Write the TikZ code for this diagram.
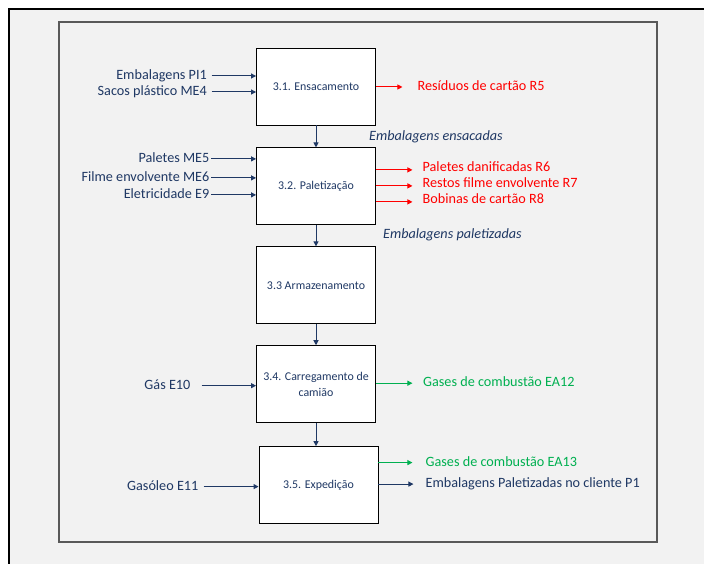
\documentclass[tikz,border=0pt]{standalone}
\usepackage{fontspec}
\setmainfont{Carlito}
\usetikzlibrary{positioning, arrows.meta}
\definecolor{procnavy}{HTML}{1F3864}
\definecolor{procred}{HTML}{FF0000}
\definecolor{procgreen}{HTML}{00B050}
\definecolor{procbg}{HTML}{F2F2F2}
\definecolor{procframe}{HTML}{595959}

\begin{document}
\begin{tikzpicture}[x=1pt, y=1pt,
        b/.style={draw=black, line width=0.9pt, fill=white, text=procnavy, font=\fontsize{11.9}{16}\selectfont, minimum width=119pt, minimum height=77pt, align=center, inner sep=0pt},
        lbl/.style={inner sep=0pt, text height=10pt, text depth=3pt, font=\fontsize{14.2}{17}\selectfont},
        inl/.style={lbl, text=procnavy},
        redl/.style={lbl, text=procred},
        greenl/.style={lbl, text=procgreen},
        flowl/.style={lbl, text=procnavy, font=\fontsize{14.2}{17}\selectfont\itshape, anchor=west},
        arr/.style={-{Triangle[length=5pt,width=5pt]}, line width=1pt},
        navyarr/.style={arr, color=procnavy},
        redarr/.style={arr, color=procred},
        greenarr/.style={arr, color=procgreen}]
      \useasboundingbox (0,0) rectangle (704,564);
      \clip (0,0) rectangle (704,564);
      \draw[line width=2.2pt, fill=procbg] (9,555) rectangle (740,-40);
      \draw[procframe, line width=1.3pt] (59,542) rectangle (657,22);
      \node[b] (b1) at (316,477.5) {3.1. Ensacamento};
      \node[b, below=22pt of b1] (b2) {3.2. Paletização};
      \node[b, below=21pt of b2] (b3) {3.3 Armazenamento};
      \node[b, below=21pt of b3] (b4) {3.4. Carregamento de\\camião};
      \node[b, below=23pt of b4, xshift=2.5pt] (b5) {3.5. Expedição};
      \draw[navyarr] (b1) -- (b2);
      \draw[navyarr] (b2) -- (b3);
      \draw[navyarr] (b3) -- (b4);
      \draw[navyarr] (b4.south) -- (b4.south |- b5.north);
      \node[flowl] (ens) at ([xshift=53pt, yshift=-12pt]b1.south) {Embalagens ensacadas};
      \node[flowl] (pal) at ([xshift=67pt, yshift=-10pt]b2.south) {Embalagens paletizadas};
      \node[inl, left=49pt of b1.west, yshift=10.5pt] (pi1) {Embalagens PI1};
      \node[inl, left=49pt of b1.west, yshift=-5.5pt] (me4) {Sacos plástico ME4};
      \node[inl, left=46.5pt of b2.west, yshift=27.5pt] (me5) {Paletes ME5};
      \node[inl, left=46.5pt of b2.west, yshift=8.5pt] (me6) {Filme envolvente ME6};
      \node[inl, left=46.5pt of b2.west, yshift=-8.5pt] (e9) {Eletricidade E9};
      \node[inl, left=65.5pt of b4.west, yshift=-1.5pt] (e10) {Gás E10};
      \node[inl, left=60pt of b5.west, yshift=-1.5pt] (e11) {Gasóleo E11};
      \draw[navyarr] ([xshift=4.5pt]pi1.east) -- (pi1 -| b1.west);
      \draw[navyarr] ([xshift=4.5pt]me4.east) -- (me4 -| b1.west);
      \draw[navyarr] ([xshift=1.5pt]me5.east) -- (me5 -| b2.west);
      \draw[navyarr] ([xshift=1.5pt]me6.east) -- (me6 -| b2.west);
      \draw[navyarr] ([xshift=1.5pt]e9.east) -- (e9 -| b2.west);
      \draw[navyarr] ([xshift=11pt]e10.east) -- (e10 -| b4.west);
      \draw[navyarr] ([xshift=5pt]e11.east) -- (e11 -| b5.west);
      \node[redl, right=41.5pt of b1.east, yshift=-0.5pt] (r5) {Resíduos de cartão R5};
      \node[redl, right=46.5pt of b2.east, yshift=18.5pt] (r6) {Paletes danificadas R6};
      \node[redl, right=46.5pt of b2.east, yshift=2.5pt] (r7) {Restos filme envolvente R7};
      \node[redl, right=46.5pt of b2.east, yshift=-13.5pt] (r8) {Bobinas de cartão R8};
      \node[greenl, right=47pt of b4.east, yshift=1pt] (ea12) {Gases de combustão EA12};
      \node[greenl, right=47pt of b5.east, yshift=22.5pt] (ea13) {Gases de combustão EA13};
      \node[inl, right=47pt of b5.east, yshift=1pt] (p1) {Embalagens Paletizadas no cliente P1};
      \draw[redarr] (r5 -| b1.east) -- ([xshift=-15pt]r5.west);
      \draw[redarr] ([yshift=-2pt]r6.west -| b2.east) -- ([xshift=-10pt, yshift=-2pt]r6.west);
      \draw[redarr] ([yshift=-2pt]r7.west -| b2.east) -- ([xshift=-10pt, yshift=-2pt]r7.west);
      \draw[redarr] ([yshift=-2pt]r8.west -| b2.east) -- ([xshift=-10pt, yshift=-2pt]r8.west);
      \draw[greenarr] (ea12 -| b4.east) -- ([xshift=-10.5pt]ea12.west);
      \draw[greenarr] (ea13 -| b5.east) -- ([xshift=-13pt]ea13.west);
      \draw[navyarr] (p1 -| b5.east) -- ([xshift=-12pt]p1.west);
    \end{tikzpicture}
\end{document}
